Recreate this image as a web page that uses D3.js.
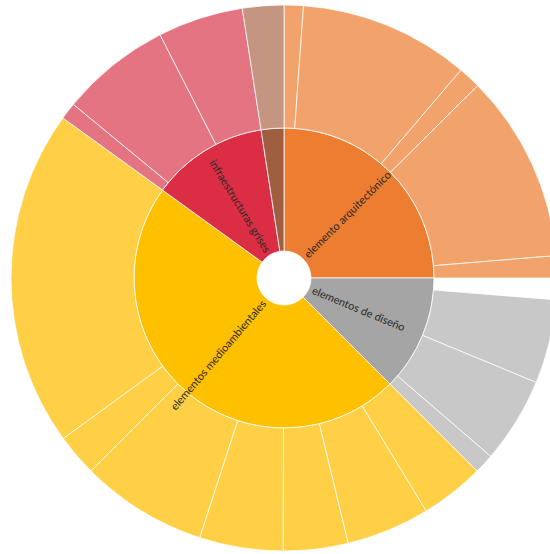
<!DOCTYPE html>
<html>
<head>
<meta charset="utf-8">
<script src="https://cdn.jsdelivr.net/npm/d3@7"></script>
<style>
  html, body { margin: 0; padding: 0; background: #ffffff; }
  svg { display: block; }
</style>
</head>
<body>
<svg id="chart" width="550" height="554"></svg>
<script>
// Top-level categories (inner ring) and their sub-element values (outer ring)
const categories = [
  "elemento arquitectónico",
  "elementos de diseño",
  "elementos medioambientales",
  "infraestructuras grises",
  "otros"
];
const arquitectonicoValues = [4.1, 36.3, 4.8, 40.1, 4.7];
const disenoSinAsignar = 4.6;          // share of "diseño" with no sub-element
const disenoValues = [17.9, 18.3, 4.2];
const medioambientalesValues = [13.6, 17.8, 13.8, 17.8, 27.0, 9.0, 71.9];
const infraestructurasValues = [3.6, 23.5, 18.2];
const otrosValues = [8.8];

const innerColors = ["#ED7D31", "#A5A5A5", "#FFC000", "#DB2D43", "#9E5E3F"];
const outerColors = ["#F2A36C", "#C8C8C8", "#FFD045", "#E47481", "#C49580"];

// Build the hierarchy
const valueLists = [
  arquitectonicoValues,
  disenoValues,
  medioambientalesValues,
  infraestructurasValues,
  otrosValues
];
const rootData = {
  name: "root",
  children: categories.map((name, i) => {
    const kids = valueLists[i].map((v, j) => ({ name: name + " " + (j + 1), value: v, group: i }));
    if (i === 1) kids.unshift({ name: "", value: disenoSinAsignar, group: i, blank: true });
    return { name, group: i, children: kids };
  })
};

const width = 550, height = 554;
const cx = 284, cy = 278;
const ringRadii = [27, 150, 273];   // hole, inner ring edge, outer ring edge

const root = d3.hierarchy(rootData).sum(d => d.value || 0);
d3.partition().size([2 * Math.PI, 2])(root);

const arc = d3.arc()
  .startAngle(d => d.x0)
  .endAngle(d => d.x1)
  .innerRadius(d => ringRadii[d.depth - 1])
  .outerRadius(d => ringRadii[d.depth]);

const svg = d3.select("#chart");
const g = svg.append("g").attr("transform", `translate(${cx},${cy})`);

g.selectAll("path.seg")
  .data(root.descendants().filter(d => d.depth > 0))
  .join("path")
  .attr("class", "seg")
  .attr("d", arc)
  .attr("fill", d => d.data.blank ? "none" : (d.depth === 1 ? innerColors[d.data.group] : outerColors[d.data.group]))
  .attr("stroke", d => d.data.blank ? "none" : "#ffffff")
  .attr("stroke-opacity", 0.75)
  .attr("stroke-width", 1);

// Radial labels for the inner ring
const labelOffset = 31;
g.selectAll("text.lbl")
  .data(root.children.filter(d => d.x1 - d.x0 > 0.3))
  .join("text")
  .attr("class", "lbl")
  .attr("transform", d => {
    const deg = ((d.x0 + d.x1) / 2) * 180 / Math.PI;
    const base = `rotate(${deg - 90}) translate(${labelOffset},0)`;
    return deg < 180 ? base : base + " rotate(180)";
  })
  .attr("text-anchor", d => ((d.x0 + d.x1) / 2) < Math.PI ? "start" : "end")
  .attr("dy", "0.35em")
  .attr("font-family", "Lato, 'Open Sans', sans-serif")
  .attr("font-size", 11)
  .attr("fill", "#2a2a2a")
  .text(d => d.data.name);
</script>
</body>
</html>
